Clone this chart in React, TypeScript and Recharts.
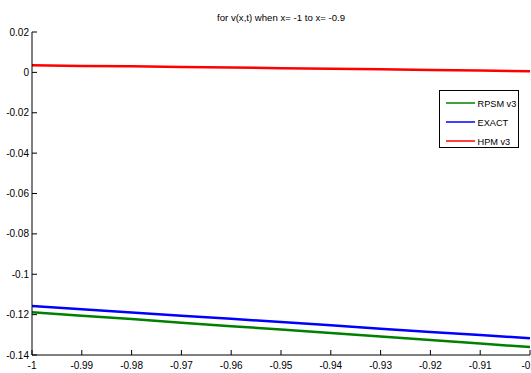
import React from 'react';
import { LineChart, Line, XAxis, YAxis, Legend } from 'recharts';

// x positions (-1 .. -0.9)
const xs = [-1, -0.99, -0.98, -0.97, -0.96, -0.95, -0.94, -0.93, -0.92, -0.91, -0.9];

// series values
const rpsmV3 = [-0.1188, -0.1205, -0.1222, -0.124, -0.1257, -0.1274, -0.1291, -0.1308, -0.1326, -0.1343, -0.1361];
const exact = [-0.1157, -0.1173, -0.1189, -0.1205, -0.1221, -0.1237, -0.1253, -0.127, -0.1286, -0.1301, -0.1317];
const hpmV3 = [0.0035, 0.0032, 0.003, 0.0027, 0.0024, 0.0021, 0.0018, 0.0015, 0.0012, 0.0009, 0.0005];

const seriesNames = ['RPSM v3', 'EXACT', 'HPM v3'];
const seriesColors = ['#008000', '#0000ff', '#ff0000'];

const xTicks = [-1, -0.99, -0.98, -0.97, -0.96, -0.95, -0.94, -0.93, -0.92, -0.91, -0.9];
const yTicks = [0.02, 0, -0.02, -0.04, -0.06, -0.08, -0.1, -0.12, -0.14];

const FONT = 'Arial, "Liberation Sans", sans-serif';
const W = 531;
const H = 373;

const data = xs.map((x, i) => ({ x, rpsm: rpsmV3[i], exact: exact[i], hpm: hpmV3[i] }));

const fmt = (v: number) => String(Math.round(v * 100) / 100);

const BottomTick = ({ x, y, payload }: any) => (
  <g>
    <line x1={x} y1={y} x2={x} y2={y - 5} stroke="#000" />
    <text x={x} y={y + 14} textAnchor="middle" fontSize={10} fontFamily={FONT} fill="#000">
      {fmt(payload.value)}
    </text>
  </g>
);

const TopTick = ({ x, y }: any) => <line x1={x} y1={y} x2={x} y2={y + 5} stroke="#000" />;

const LeftTick = ({ x, y, payload }: any) => (
  <g>
    <line x1={x} y1={y} x2={x + 5} y2={y} stroke="#000" />
    <text x={x - 3} y={y + 3.5} textAnchor="end" fontSize={10} fontFamily={FONT} fill="#000">
      {fmt(payload.value)}
    </text>
  </g>
);

const RightTick = ({ x, y }: any) => <line x1={x} y1={y} x2={x - 5} y2={y} stroke="#000" />;

// legend box drawn as svg so it keeps the series order
const renderLegend = () => (
  <svg width={80} height={58} style={{ display: 'block' }}>
    <rect x={0.5} y={0.5} width={79} height={57} fill="#fff" stroke="#000" />
    {seriesNames.map((name, i) => (
      <g key={name}>
        <line x1={7} x2={36} y1={13 + i * 19} y2={13 + i * 19} stroke={seriesColors[i]} strokeWidth={1.5} />
        <text x={38.5} y={16.5 + i * 19} fontSize={9.2} fontFamily={FONT} fill="#000">
          {name}
        </text>
      </g>
    ))}
  </svg>
);

export default function App() {
  return (
    <div style={{ position: 'absolute', left: 0, top: 0, width: W, height: H, overflow: 'hidden', background: '#fff' }}>
      <LineChart width={W} height={H} data={data} margin={{ top: 32, right: 1, bottom: 0, left: 0 }}>
        <text x={281} y={20.5} textAnchor="middle" fontSize={9.6} fontFamily={FONT} fill="#000">
          for v(x,t) when x= -1 to x= -0.9
        </text>
        <XAxis
          xAxisId="bottom"
          dataKey="x"
          type="number"
          domain={[-1, -0.9]}
          ticks={xTicks}
          interval={0}
          allowDataOverflow
          height={18}
          tickSize={0}
          tickMargin={0}
          tickLine={false}
          axisLine={{ stroke: '#000' }}
          tick={(p: any) => <BottomTick {...p} />}
        />
        <XAxis
          xAxisId="top"
          orientation="top"
          dataKey="x"
          type="number"
          domain={[-1, -0.9]}
          ticks={xTicks}
          interval={0}
          allowDataOverflow
          height={0}
          tickSize={0}
          tickMargin={0}
          tickLine={false}
          axisLine={{ stroke: '#000' }}
          tick={(p: any) => <TopTick {...p} />}
        />
        <YAxis
          yAxisId="left"
          type="number"
          domain={[-0.14, 0.02]}
          ticks={yTicks}
          interval={0}
          allowDataOverflow
          width={32}
          tickSize={0}
          tickMargin={0}
          tickLine={false}
          axisLine={{ stroke: '#000' }}
          tick={(p: any) => <LeftTick {...p} />}
        />
        <YAxis
          yAxisId="right"
          orientation="right"
          type="number"
          domain={[-0.14, 0.02]}
          ticks={yTicks}
          interval={0}
          allowDataOverflow
          width={0}
          tickSize={0}
          tickMargin={0}
          tickLine={false}
          axisLine={{ stroke: '#000' }}
          tick={(p: any) => <RightTick {...p} />}
        />
        <Legend
          layout="vertical"
          align="center"
          verticalAlign="middle"
          content={renderLegend}
          wrapperStyle={{ left: 439, top: 90, width: 80, height: 58 }}
        />
        <Line xAxisId="bottom" yAxisId="left" name={seriesNames[0]} dataKey="rpsm" stroke={seriesColors[0]} strokeWidth={2.5} dot={false} isAnimationActive={false} />
        <Line xAxisId="bottom" yAxisId="left" name={seriesNames[1]} dataKey="exact" stroke={seriesColors[1]} strokeWidth={2.5} dot={false} isAnimationActive={false} />
        <Line xAxisId="bottom" yAxisId="left" name={seriesNames[2]} dataKey="hpm" stroke={seriesColors[2]} strokeWidth={2.5} dot={false} isAnimationActive={false} />
      </LineChart>
    </div>
  );
}
